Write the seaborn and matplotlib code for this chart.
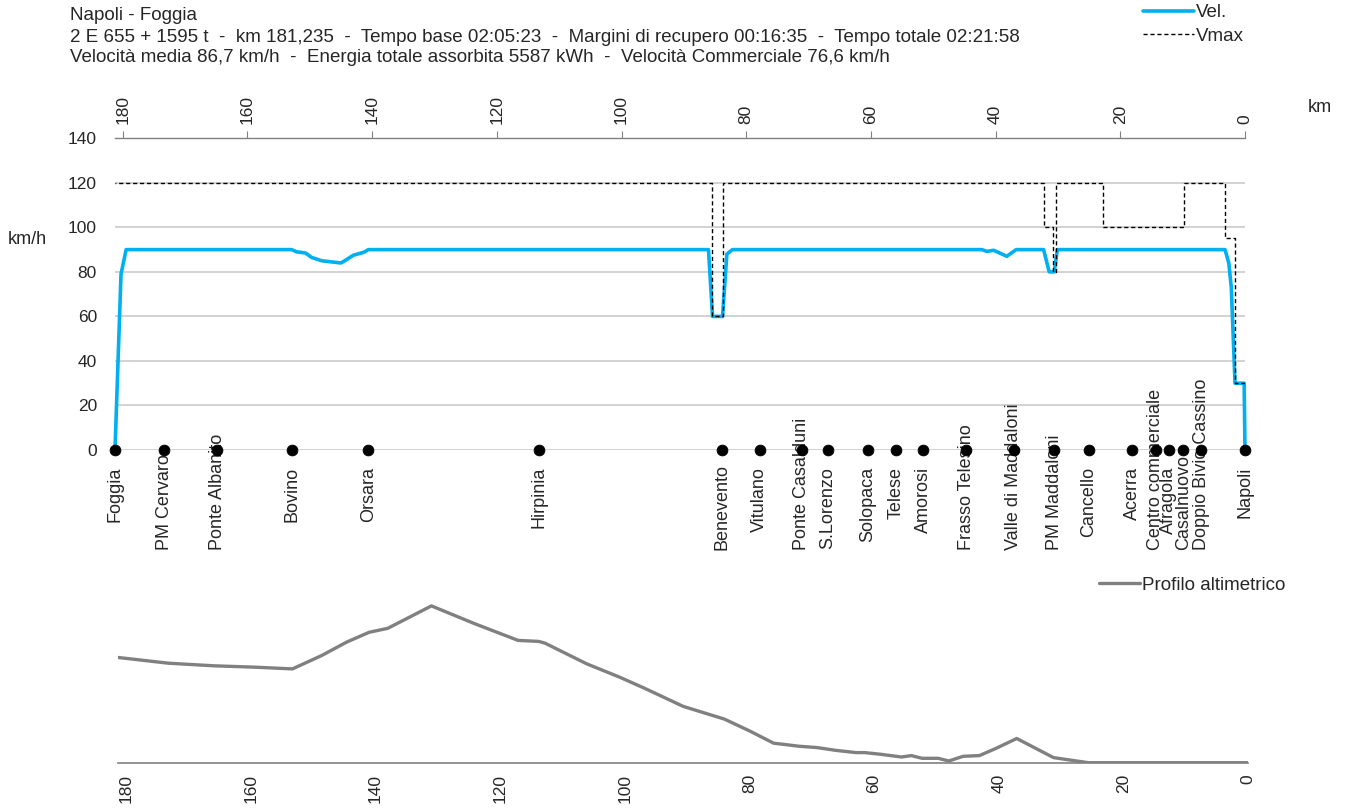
import numpy as np
import pandas as pd
import matplotlib
matplotlib.use("Agg")
import matplotlib.pyplot as plt
import seaborn as sns

# Dati
km_vel = [181.235, 180.27, 179.45, 152.9, 152.1, 150.7, 149.7, 148.1, 145.0, 144.1, 143.0,
          141.7, 141.2, 140.6, 86.05, 85.4, 83.8, 83.1, 82.2, 42.2, 41.4, 40.3, 38.2, 36.7,
          32.3, 31.4, 30.6, 30.1, 3.2, 2.6, 2.2, 1.6, 0.14, 0.0]
vel = [0, 79, 90, 90, 89, 88.5, 86.5, 85, 84, 85.5, 87.5,
       88.5, 89, 90, 90, 60, 60, 88, 90, 90, 89.2, 89.7, 87, 90,
       90, 80, 80, 90, 90, 84, 73, 30, 30, 0]

# Vmax a gradini (inizio tratto in km crescenti)
km_vmax = [0.0, 1.6, 3.2, 9.8, 22.8, 30.3, 30.8, 32.3, 83.8, 85.5, 181.235]
vmax = [30, 95, 120, 100, 120, 80, 100, 120, 60, 120, 120]

stazioni = ["Foggia", "PM Cervaro", "Ponte Albanito", "Bovino", "Orsara", "Hirpinia",
            "Benevento", "Vitulano", "Ponte Casalduni", "S.Lorenzo", "Solopaca", "Telese",
            "Amorosi", "Frasso Telesino", "Valle di Maddaloni", "PM Maddaloni", "Cancello",
            "Acerra", "Centro commerciale", "Afragola", "Casalnuovo", "Doppio Bivio Cassino",
            "Napoli"]
km_stazioni = [181.235, 173.3, 164.8, 152.9, 140.6, 113.2, 83.9, 77.8, 71.1, 66.9, 60.5,
               56.0, 51.6, 44.7, 37.1, 30.6, 25.1, 18.1, 14.3, 12.2, 9.9, 7.0, 0.0]

# profilo altimetrico (quota relativa, scala arbitraria)
km_prof = [181.235, 173.2, 165.9, 159.2, 153.3, 151.3, 148.6, 144.6, 141.0, 138.0, 131.0,
           124.1, 117.1, 113.8, 112.8, 106.1, 100.8, 96.9, 90.6, 84.0, 80.0, 76.1, 74.7,
           72.1, 69.1, 66.2, 62.9, 61.5, 58.9, 55.6, 54.0, 52.3, 49.7, 48.0, 45.7, 43.1,
           40.4, 37.1, 31.2, 28.6, 25.6, 0.0]
quota = [105.5, 99.8, 97.2, 95.8, 94.1, 99.8, 107.5, 120.9, 130.7, 134.7, 157.1,
         139.4, 122.6, 121.6, 119.9, 99.2, 85.8, 75.0, 56.6, 43.9, 32.2, 19.8, 18.8,
         16.8, 15.4, 12.7, 10.4, 10.4, 8.7, 6.0, 7.4, 4.7, 4.7, 2.0, 6.7, 7.4,
         14.7, 24.5, 5.4, 3.0, 0.3, 0.3]

righe_titolo = [
    "Napoli - Foggia",
    "2 E 655 + 1595 t  -  km 181,235  -  Tempo base 02:05:23  -  Margini di recupero 00:16:35  -  Tempo totale 02:21:58",
    "Velocità media 86,7 km/h  -  Energia totale assorbita 5587 kWh  -  Velocità Commerciale 76,6 km/h",
]

sns.set_style("white")
plt.rcParams["font.family"] = ["Liberation Sans", "DejaVu Sans"]
plt.rcParams["font.size"] = 12.5

W, H = 1345, 809
fig = plt.figure(figsize=(W / 100, H / 100), dpi=100)

def box(x0, y_top, x1, y_bot):
    return [x0 / W, 1 - y_bot / H, (x1 - x0) / W, (y_bot - y_top) / H]

BLU = "#00B0F0"
GRIGIO = "#808080"

# --- grafico velocità ---
ax = fig.add_axes(box(115, 138.3, 1245, 450))
df_vel = pd.DataFrame({"km": km_vel, "v": vel})
df_vmax = pd.DataFrame({"km": km_vmax, "v": vmax})
sns.lineplot(data=df_vel, x="km", y="v", ax=ax, color=BLU, lw=2.6, estimator=None,
             sort=False, label="Vel.", zorder=3, clip_on=False)
sns.lineplot(data=df_vmax, x="km", y="v", ax=ax, color="black", lw=1.0, ls=(0, (3, 2)),
             estimator=None, drawstyle="steps-post", label="Vmax", zorder=4)
sns.scatterplot(x=km_stazioni, y=[0] * len(km_stazioni), ax=ax, color="black", s=60,
                edgecolor="black", zorder=5, clip_on=False)

ax.set_xlim(181.235, 0)
ax.set_ylim(0, 140)
ax.set_yticks(range(0, 141, 20))
ax.set_xticks(range(0, 181, 20))
ax.xaxis.tick_top()
ax.tick_params(axis="x", direction="out", length=5, width=0.8, color=GRIGIO, pad=5.5,
               labelrotation=90)
ax.tick_params(axis="y", length=0, pad=13)
ax.set_xlabel("")
ax.set_ylabel("")
for s in ["left", "right", "bottom"]:
    ax.spines[s].set_visible(False)
ax.spines["top"].set_color(GRIGIO)
ax.spines["top"].set_linewidth(1)
ax.grid(axis="y", color="#cfcfcf", lw=1.3)
ax.set_axisbelow(True)

handles, labels = ax.get_legend_handles_labels()
ax.get_legend().remove()
fig.legend(handles, labels, loc="upper left", bbox_to_anchor=(1143 / W, 1 - 4 / H),
           frameon=False, handlelength=2.7, handletextpad=0.1, labelspacing=0.35,
           borderpad=0, borderaxespad=0, fontsize=13.5)

# etichette stazioni, tenute dentro l'area del grafico come in Excel
etichette = []
for nome, km in zip(stazioni, km_stazioni):
    t = ax.annotate(nome, xy=(km, 0), xytext=(0, -12), textcoords="offset points",
                    rotation=90, ha="center", va="top", fontsize=13, annotation_clip=False)
    etichette.append(t)

fig.text(8 / W, 1 - 240 / H, "km/h", ha="left", va="center", fontsize=13)
fig.text(1320 / W, 1 - 108 / H, "km", ha="center", va="center", fontsize=13)
for i, riga in enumerate(righe_titolo):
    fig.text(70 / W, 1 - (16 + 21 * i) / H, riga, ha="left", va="center", fontsize=13.5)

# --- profilo altimetrico ---
ax2 = fig.add_axes(box(118.3, 590, 1248, 763))
df_prof = pd.DataFrame({"km": km_prof, "quota": quota})
sns.lineplot(data=df_prof, x="km", y="quota", ax=ax2, color=GRIGIO, lw=2.4,
             estimator=None, sort=False, label="Profilo altimetrico")
ax2.set_xlim(181.235, 0)
ax2.set_ylim(0, 173)
ax2.set_xticks(range(0, 181, 20))
ax2.set_yticks([])
ax2.set_xlabel("")
ax2.set_ylabel("")
ax2.tick_params(axis="x", direction="out", length=5, width=0.8, color=GRIGIO, pad=3,
                labelrotation=90)
for s in ["left", "right", "top"]:
    ax2.spines[s].set_visible(False)
ax2.spines["bottom"].set_color(GRIGIO)
ax2.spines["bottom"].set_linewidth(1.2)
h2, l2 = ax2.get_legend_handles_labels()
ax2.get_legend().remove()
fig.legend(h2, l2, loc="center left", bbox_to_anchor=(1099 / W, 1 - 585 / H),
           frameon=False, handlelength=2.2, handletextpad=0.1, borderpad=0,
           borderaxespad=0, fontsize=13.5)

# sposta in alto le etichette che escono sotto il limite
fig.canvas.draw()
r = fig.canvas.get_renderer()
limite = H - 550
for t in etichette:
    bb = t.get_window_extent(r)
    if bb.y0 < limite:
        dy = (limite - bb.y0) * 72 / fig.dpi
        t.xyann = (0, -12 + dy)

fig.savefig("out.png", dpi=100)
